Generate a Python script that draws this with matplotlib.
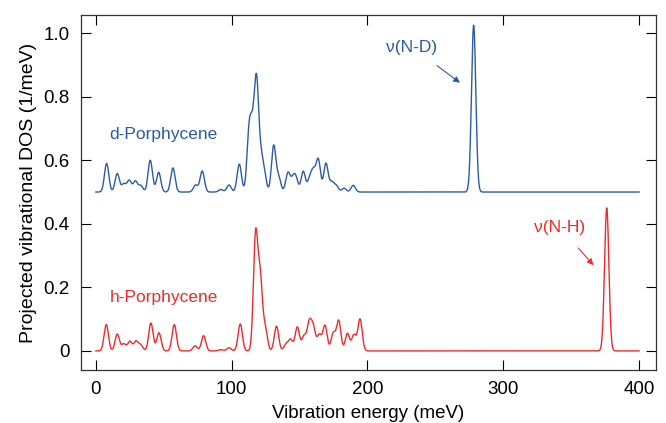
import numpy as np
from matplotlib import pyplot as plt
from matplotlib import rcParams

rcParams["font.family"] = ["Liberation Sans", "DejaVu Sans"]
rcParams["font.size"] = 13

# peak positions (meV) and heights (1/meV)
d_pos = [7.9, 15.7, 20.5, 24.5, 29.0, 33.0, 40.0, 46.2, 56.7, 73.4, 78.3, 92.0, 98.0,
         105.6, 112.8, 115.4, 118.3, 121.5, 124.0, 130.9, 134.6, 141.4, 145.0, 147.3,
         152.7, 157.5, 160.3, 163.8, 169.4, 173.6, 177.0, 182.7, 189.5, 278.2]
d_amp = [0.090, 0.058, 0.025, 0.036, 0.034, 0.020, 0.100, 0.062, 0.076, 0.022, 0.066,
         0.008, 0.022, 0.088, 0.180, 0.150, 0.330, 0.090, 0.050, 0.145, 0.045, 0.060,
         0.035, 0.040, 0.065, 0.040, 0.060, 0.100, 0.090, 0.030, 0.020, 0.012, 0.021,
         0.525]
d_offset = 0.5

h_pos = [7.6, 15.7, 20.5, 25.0, 29.5, 33.0, 40.5, 46.4, 57.7, 73.0, 79.3, 92.0, 98.0,
         106.3, 117.6, 121.0, 124.7, 133.0, 140.0, 143.4, 148.3, 153.2, 157.1,
         160.1, 164.5, 168.7, 174.8, 178.8, 185.2, 190.0, 194.5, 376.2]
h_amp = [0.083, 0.053, 0.022, 0.030, 0.030, 0.018, 0.088, 0.057, 0.083, 0.016, 0.048,
         0.004, 0.010, 0.085, 0.360, 0.220, 0.070, 0.078, 0.020, 0.035, 0.075,
         0.045, 0.085, 0.070, 0.050, 0.080, 0.055, 0.095, 0.055, 0.050, 0.100,
         0.450]

blue = "#2c5aa8"
red = "#f02a2a"

energy = np.linspace(0, 400, 4001)


def broaden(pos, amp, sigma=1.6):
    dos = np.zeros_like(energy)
    for p, a in zip(pos, amp):
        dos += a * np.exp(-0.5 * ((energy - p) / sigma) ** 2)
    return dos


d_dos = broaden(d_pos, d_amp) + d_offset
h_dos = broaden(h_pos, h_amp)

fig = plt.figure(figsize=(6.66, 4.23), dpi=100)
ax = fig.add_axes([0.1216, 0.1253, 0.8634, 0.8392])

ax.plot(energy, d_dos, color=blue, lw=1.0)
ax.plot(energy, h_dos, color=red, lw=1.0)

ax.text(50, 0.68, "d-Porphycene", color=blue, fontsize=12.5, ha="center", va="center")
ax.text(50, 0.168, "h-Porphycene", color=red, fontsize=12.5, ha="center", va="center")

ax.annotate("ν(N-D)", xy=(268.1, 0.844), xytext=(232.8, 0.956), color=blue,
            fontsize=12.5, ha="center", va="center",
            arrowprops=dict(arrowstyle="-|>", color=blue, lw=0.8,
                            mutation_scale=9, shrinkA=10, shrinkB=0))
ax.annotate("ν(N-H)", xy=(366.4, 0.27), xytext=(341.8, 0.389), color=red,
            fontsize=12.5, ha="center", va="center",
            arrowprops=dict(arrowstyle="-|>", color=red, lw=0.8,
                            mutation_scale=9, shrinkA=10, shrinkB=0))

ax.set_xlim(-11, 412.5)
ax.set_ylim(-0.06, 1.057)
ax.set_xticks([0, 100, 200, 300, 400])
ax.set_yticks([0, 0.2, 0.4, 0.6, 0.8, 1.0])
ax.set_yticklabels(["0", "0.2", "0.4", "0.6", "0.8", "1.0"])
ax.tick_params(direction="in", length=7, width=0.8, top=True, right=True,
               labelsize=13.5, pad=8)
for s in ax.spines.values():
    s.set_linewidth(0.9)
    s.set_color("#333333")

ax.set_xlabel("Vibration energy (meV)", fontsize=13.5, labelpad=5)
ax.set_ylabel("Projected vibrational DOS (1/meV)", fontsize=14, labelpad=5)

plt.savefig("out.png", dpi=100)
